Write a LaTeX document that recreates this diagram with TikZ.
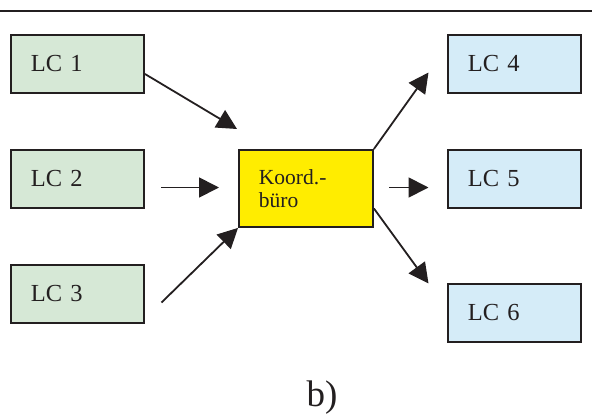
\documentclass[tikz,border=0pt]{standalone}
\usepackage{fontspec}
\setmainfont{Liberation Serif}
\usetikzlibrary{arrows.meta}
\definecolor{ink}{HTML}{231F20}
\definecolor{lcgreen}{HTML}{D6E8D6}
\definecolor{lcblue}{HTML}{D5ECF8}
\definecolor{officeyellow}{HTML}{FFED00}
\tikzset{
  lcbox/.style={draw=ink, line width=1.9pt, rectangle, anchor=north west,
    minimum height=58pt, text width=93pt, inner xsep=20pt, inner ysep=0pt,
    align=left, text=ink, font=\fontsize{24.5}{26}\selectfont},
  officebox/.style={lcbox, fill=officeyellow, minimum height=77pt, text width=94pt,
    font=\fontsize{21.5}{23.5}\selectfont},
  flow/.style={draw=ink, line width=1.8pt, -{Triangle[length=20pt,width=20pt]}}
}
\begin{document}
\begin{tikzpicture}[x=1pt,y=-1pt]
  \useasboundingbox (0,0) rectangle (592,416);
  % rule above the diagram
  \draw[ink, line width=2pt] (0,10.5) -- (592,10.5);

  % local centres on the left
  \node[lcbox, fill=lcgreen] (lc1) at (10,34)  {LC 1};
  \node[lcbox, fill=lcgreen] (lc2) at (10,149) {LC 2};
  \node[lcbox, fill=lcgreen] (lc3) at (10,264) {LC 3};

  % coordination office
  \node[officebox] (office) at (238,149) {Koord.-\\büro};

  % local centres on the right
  \node[lcbox, fill=lcblue] (lc4) at (447,34)  {LC 4};
  \node[lcbox, fill=lcblue] (lc5) at (447,149) {LC 5};
  \node[lcbox, fill=lcblue] (lc6) at (447,283) {LC 6};

  % free ends of the connectors
  \coordinate (in1)  at (237,129);
  \coordinate (s2)   at (161,187.5);
  \coordinate (in2)  at (219,187.5);
  \coordinate (s3)   at (161.5,302.5);
  \coordinate (out4) at (428.5,72.5);
  \coordinate (s5)   at (389,187.5);
  \coordinate (out5) at (428.5,187.5);
  \coordinate (out6) at (428.5,283.5);

  % incoming flows
  \draw[flow] ([yshift=-10pt]lc1.east) -- (in1);
  \draw[flow] (s2) -- (in2);
  \draw[flow] (s3) -- (office.south west);

  % outgoing flows
  \draw[flow] (office.north east) -- (out4);
  \draw[flow] (s5) -- (out5);
  \draw[flow] ([yshift=-20pt]office.east) -- (out6);

  \node[text=ink, font=\fontsize{37}{40}\selectfont, anchor=base] (label) at (322,406.5) {b)};
\end{tikzpicture}
\end{document}
